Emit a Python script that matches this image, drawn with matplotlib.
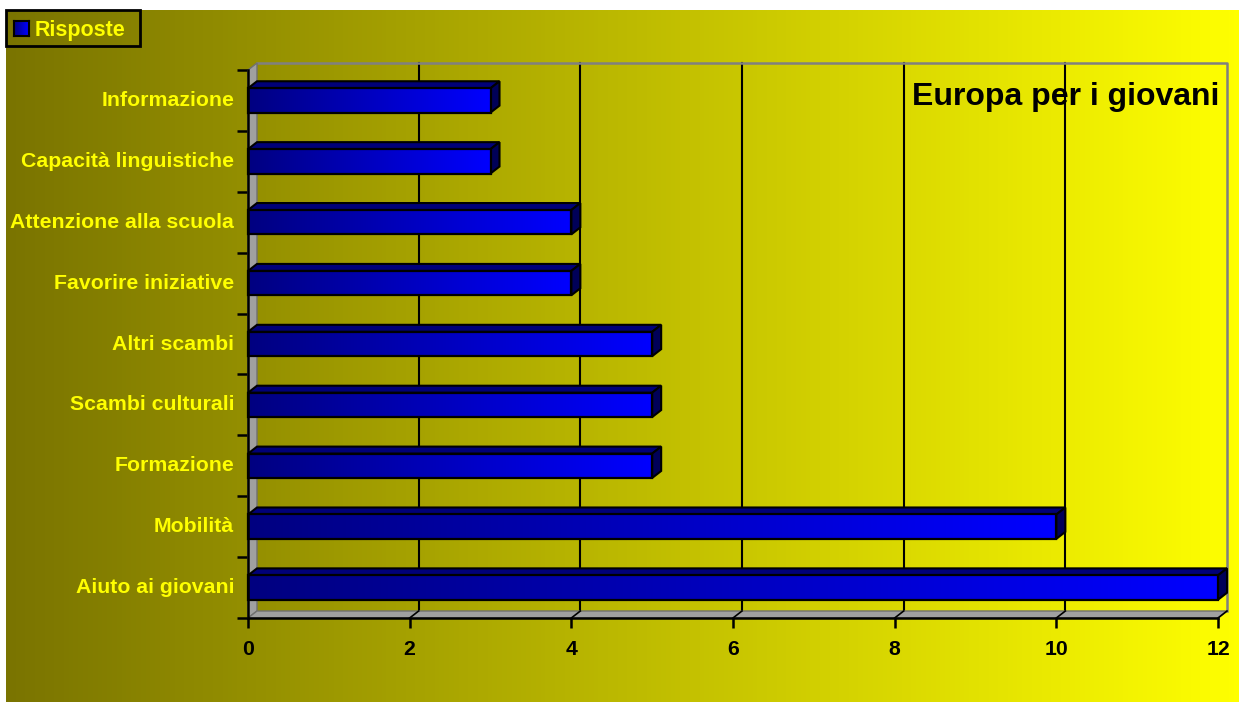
import numpy as np
import matplotlib
matplotlib.use("Agg")
import matplotlib.pyplot as plt
from matplotlib.colors import LinearSegmentedColormap
from matplotlib.patches import Polygon, Rectangle

categories = ["Aiuto ai giovani", "Mobilità", "Formazione", "Scambi culturali",
              "Altri scambi", "Favorire iniziative", "Attenzione alla scuola",
              "Capacità linguistiche", "Informazione"]
risposte = [12, 10, 5, 5, 5, 4, 4, 3, 3]
x_ticks = [0, 2, 4, 6, 8, 10, 12]
title = "Europa per i giovani"
legend_label = "Risposte"

plt.rcParams['font.family'] = ['Liberation Sans', 'DejaVu Sans']
plt.rcParams['font.weight'] = 'bold'

W, H = 1239, 702
fig = plt.figure(figsize=(W / 100, H / 100), dpi=100)
fig.patch.set_facecolor("white")

# olive -> yellow background
bg = fig.add_axes([6 / W, 0, 1 - 6 / W, 692 / H])
bg_cmap = LinearSegmentedColormap.from_list("bg", ["#7a7400", "#ffff00"])
bg.imshow(np.linspace(0, 1, 256)[None, :], cmap=bg_cmap, aspect="auto",
          extent=[0, 1, 0, 1])
bg.set_axis_off()

bar_cmap = LinearSegmentedColormap.from_list("bar", ["#000080", "#0000ff"])

ax = fig.add_axes([248 / W, (H - 618) / H, 970 / W, 548 / H])
ax.patch.set_alpha(0)
n = len(categories)
xmax = x_ticks[-1]
dx = 9 / 970 * xmax
dy = 7 / 548 * n
hb = 0.2

# back wall gridlines and frame
for t in x_ticks[1:-1]:
    ax.plot([t + dx, t + dx], [-0.5 + dy, n - 0.5 + dy], color="black", lw=1.5,
            zorder=1, clip_on=False)
ax.plot([dx, xmax + dx, xmax + dx], [n - 0.5 + dy, n - 0.5 + dy, -0.5 + dy],
        color="#808080", lw=1.8, zorder=1, clip_on=False)

# side wall and floor
side = Polygon([(0, -0.5), (dx, -0.5 + dy), (dx, n - 0.5 + dy), (0, n - 0.5)],
               closed=True, facecolor="#a0a0a0", edgecolor="#707070", lw=1,
               zorder=2, clip_on=False)
floor = Polygon([(0, -0.5), (xmax, -0.5), (xmax + dx, -0.5 + dy), (dx, -0.5 + dy)],
                closed=True, facecolor="#a0a0a0", edgecolor="#707070", lw=1,
                zorder=2, clip_on=False)
ax.add_patch(side)
ax.add_patch(floor)
for t in x_ticks[1:]:
    ax.plot([t, t + dx], [-0.5, -0.5 + dy], color="black", lw=1.2, zorder=2.2,
            clip_on=False)

# 3d bars
for i, v in enumerate(risposte):
    y0, y1 = i - hb, i + hb
    top = Polygon([(0, y1), (v, y1), (v + dx, y1 + dy), (dx, y1 + dy)], closed=True,
                  facecolor="#000078", edgecolor="black", lw=1.5, zorder=3,
                  clip_on=False)
    side_face = Polygon([(v, y0), (v, y1), (v + dx, y1 + dy), (v + dx, y0 + dy)],
                        closed=True, facecolor="#000058", edgecolor="black",
                        lw=1.5, zorder=3, clip_on=False)
    ax.add_patch(top)
    ax.add_patch(side_face)
    ax.imshow(np.linspace(0, 1, 256)[None, :], cmap=bar_cmap, aspect="auto",
              extent=[0, v, y0, y1], zorder=4, clip_on=False)
    ax.add_patch(Rectangle((0, y0), v, y1 - y0, facecolor="none",
                           edgecolor="black", lw=1.6, zorder=5, clip_on=False))

ax.set_xlim(0, xmax)
ax.set_ylim(-0.5, n - 0.5)

for s in ["top", "right"]:
    ax.spines[s].set_visible(False)
for s in ["left", "bottom"]:
    ax.spines[s].set_linewidth(1.8)
    ax.spines[s].set_color("black")
    ax.spines[s].set_zorder(6)

ax.set_xticks(x_ticks)
ax.set_xticklabels([str(t) for t in x_ticks], fontsize=15.3, fontweight="bold",
                   color="black")
ax.tick_params(axis="x", length=7.5, width=1.8, pad=8, color="black")
ax.set_yticks(range(n))
ax.set_yticklabels(categories, fontsize=15.3, fontweight="bold", color="#ffff00",
                   va="center")
ax.set_yticks(np.arange(-0.5, n), minor=True)
ax.tick_params(axis="y", which="major", length=0, pad=10)
ax.tick_params(axis="y", which="minor", length=8, width=1.8, color="black")

ax.text(8.215, n - 0.5 - 35 / 548 * n, title, fontsize=23, fontweight="bold",
        color="black", va="baseline", ha="left", zorder=7)

# legend box
fig.patches.append(Rectangle((6 / W, (H - 46) / H), 134 / W, 36 / H,
                             transform=fig.transFigure, facecolor="none",
                             edgecolor="black", lw=2))
lg = fig.add_axes([14 / W, (H - 36) / H, 15 / W, 15 / H])
lg.imshow(np.linspace(0, 1, 64)[None, :], cmap=bar_cmap, aspect="auto",
          extent=[0, 1, 0, 1])
lg.set_xticks([])
lg.set_yticks([])
for s in lg.spines.values():
    s.set_linewidth(1.5)
fig.text(35 / W, (H - 36) / H, legend_label, fontsize=15.5, fontweight="bold",
         color="#ffff00", va="baseline", ha="left")

fig.savefig("out.png", dpi=100)
